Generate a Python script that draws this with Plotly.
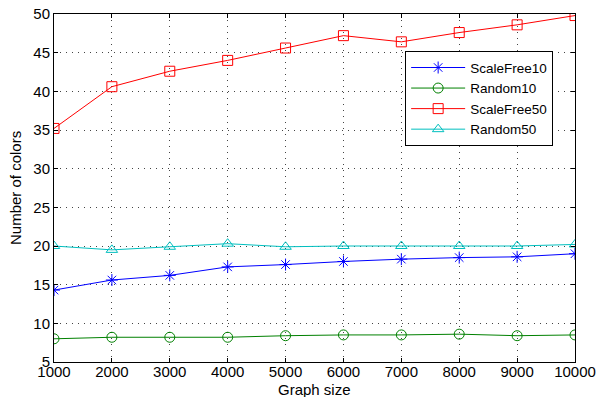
import plotly.graph_objects as go

graph_size = [1000, 2000, 3000, 4000, 5000, 6000, 7000, 8000, 9000, 10000]
x_tick_labels = ["1000", "2000", "3000", "4000", "5000", "6000", "7000", "8000", "9000", "10000"]
y_ticks = [5, 10, 15, 20, 25, 30, 35, 40, 45, 50]
scalefree10 = [14.3, 15.6, 16.2, 17.3, 17.6, 18.0, 18.3, 18.5, 18.6, 19.0]
random10 = [8.0, 8.2, 8.2, 8.2, 8.4, 8.5, 8.5, 8.6, 8.4, 8.5]
scalefree50 = [35.2, 40.6, 42.6, 44.0, 45.6, 47.2, 46.4, 47.6, 48.6, 49.8]
random50 = [20.0, 19.5, 19.9, 20.3, 19.9, 20.0, 20.0, 20.0, 20.0, 20.2]

series = [
    ("ScaleFree10", scalefree10, "#0000ff", "asterisk-open"),
    ("Random10", random10, "#008000", "circle-open"),
    ("ScaleFree50", scalefree50, "#ff0000", "square-open"),
    ("Random50", random50, "#00bfbf", "triangle-up-open"),
]

fig = go.Figure()
for name, vals, col, sym in series:
    fig.add_trace(go.Scatter(
        x=graph_size, y=vals, name=name, mode="lines+markers",
        line=dict(color=col, width=1),
        marker=dict(symbol=sym, size=10, color=col, line=dict(color=col, width=1)),
    ))

font_family = "Liberation Sans, Arial, sans-serif"
grid_common = dict(
    ticks="inside", ticklen=4, tickcolor="black",
    showline=True, linecolor="black", linewidth=1, mirror="ticks",
    showgrid=True, gridcolor="#444444", griddash="1px,5px", gridwidth=1,
    zeroline=False, automargin=False,
    tickfont=dict(size=15),
)
fig.update_layout(
    width=598, height=397,
    margin=dict(l=54, r=23, t=14, b=35),
    paper_bgcolor="white", plot_bgcolor="white",
    font=dict(family=font_family, size=13, color="black"),
    showlegend=True,
    legend=dict(
        x=0.674, y=0.893, xanchor="left", yanchor="top",
        bgcolor="white", bordercolor="black", borderwidth=1,
        font=dict(size=13.5, family=font_family), tracegroupgap=0,
        itemwidth=54,
    ),
    xaxis=dict(
        range=[1000, 10000], tickvals=graph_size, ticktext=x_tick_labels,
        ticklabelstandoff=-4,
        **grid_common,
    ),
    yaxis=dict(
        range=[5, 50], tickvals=y_ticks,
        **grid_common,
    ),
    annotations=[
        dict(text="Graph size", xref="paper", yref="paper", x=0.5, y=0,
             xanchor="center", yanchor="top", yshift=-17, showarrow=False,
             font=dict(size=15)),
        dict(text="Number of colors", xref="paper", yref="paper", x=0, y=0.5,
             xanchor="center", yanchor="middle", xshift=-39, textangle=-90,
             showarrow=False, font=dict(size=15)),
    ],
)

fig.write_html("out.html")
